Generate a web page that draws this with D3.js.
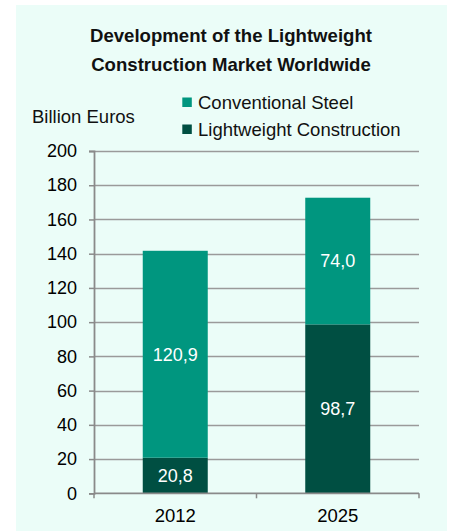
<!DOCTYPE html>
<html><head><meta charset="utf-8">
<script src="https://cdn.jsdelivr.net/npm/d3@7"></script>
<style>html,body{margin:0;padding:0;background:#fff;}svg{display:block;}</style>
</head><body>
<svg id="c" width="450" height="531"></svg>
<script>
const categories = ["2012", "2025"];
const seriesNames = ["Lightweight Construction", "Conventional Steel"];
const lightweight = [20.8, 98.7];
const conventional = [120.9, 74.0];
const valueLabels = [["20,8", "98,7"], ["120,9", "74,0"]];
const yTicks = [0, 20, 40, 60, 80, 100, 120, 140, 160, 180, 200];

const colors = ["#004f42", "#00967f"];
const svg = d3.select("#c");
const font = "'Liberation Sans', Arial, sans-serif";

svg.append("rect").attr("x", 16).attr("y", 5).attr("width", 431).attr("height", 526).attr("fill", "#ebfdf8");

const m = {left: 94, right: 419, top: 151, bottom: 493.3};
const x = d3.scaleBand().domain(categories).range([m.left, m.right]).padding(0);
const y = d3.scaleLinear().domain([0, 200]).range([m.bottom, m.top]);

// gridlines
svg.append("g").selectAll("line").data(yTicks.filter(d => d > 0)).join("line")
  .attr("x1", m.left).attr("x2", m.right)
  .attr("y1", d => Math.round(y(d)) + 0.5).attr("y2", d => Math.round(y(d)) + 0.5)
  .attr("stroke", "#9a9a9a").attr("stroke-width", 1.5);

// y axis
const yAxis = d3.axisLeft(y).tickValues(yTicks).tickSize(5).tickPadding(12).tickFormat(d3.format("d"));
const gy = svg.append("g").attr("transform", `translate(${m.left},0)`).call(yAxis);
gy.select(".domain").attr("stroke", "#8a8a8a").attr("stroke-width", 1.8);
gy.selectAll(".tick line").attr("stroke", "#8a8a8a").attr("stroke-width", 1.5);
gy.selectAll(".tick text").attr("font-family", font).attr("font-size", 18).attr("fill", "#000");

// bars
const stackData = categories.map((c, i) => ({cat: c, vals: [lightweight[i], conventional[i]]}));
const barW = x.bandwidth() * 0.4;
stackData.forEach((d, i) => {
  let base = 0;
  d.vals.forEach((v, s) => {
    const cx = x(d.cat) + x.bandwidth() / 2;
    svg.append("rect")
      .attr("x", cx - barW / 2).attr("width", barW)
      .attr("y", y(base + v)).attr("height", y(base) - y(base + v))
      .attr("fill", colors[s]);
    svg.append("text").attr("x", cx).attr("y", y(base + v / 2)).attr("dy", "0.35em")
      .attr("text-anchor", "middle").attr("font-family", font).attr("font-size", 18)
      .attr("fill", "#fff").text(valueLabels[s][i]);
    base += v;
  });
});

// x axis
const gx = svg.append("g").attr("transform", `translate(0,${m.bottom})`);
gx.append("line").attr("x1", m.left).attr("x2", m.right).attr("y1", 0).attr("y2", 0)
  .attr("stroke", "#8a8a8a").attr("stroke-width", 1.8);
const bounds = [m.left, ...categories.map(c => x(c) + x.bandwidth())];
gx.selectAll(".xt").data(bounds).join("line").attr("x1", d => d).attr("x2", d => d)
  .attr("y1", 0).attr("y2", 5).attr("stroke", "#8a8a8a").attr("stroke-width", 1.5);
gx.selectAll(".xl").data(categories).join("text")
  .attr("x", d => x(d) + x.bandwidth() / 2).attr("y", 28.5)
  .attr("text-anchor", "middle").attr("font-family", font).attr("font-size", 18.5).attr("fill", "#000")
  .text(d => d);

// title
svg.append("text").attr("x", 231).attr("y", 42).attr("text-anchor", "middle")
  .attr("font-family", font).attr("font-weight", "bold").attr("font-size", 18.6).attr("fill", "#111")
  .text("Development of the Lightweight");
svg.append("text").attr("x", 231).attr("y", 71).attr("text-anchor", "middle")
  .attr("font-family", font).attr("font-weight", "bold").attr("font-size", 18.6).attr("fill", "#111")
  .text("Construction Market Worldwide");

// unit label
svg.append("text").attr("x", 32).attr("y", 123).attr("font-family", font).attr("font-size", 18.5)
  .attr("fill", "#111").text("Billion Euros");

// legend
const legendOrder = [1, 0];
legendOrder.forEach((s, k) => {
  const ly = 109 + k * 27;
  svg.append("rect").attr("x", 182.3).attr("y", ly - 11.5).attr("width", 9.5).attr("height", 9.5).attr("fill", colors[s]);
  svg.append("text").attr("x", 198).attr("y", ly).attr("font-family", font).attr("font-size", 18.5)
    .attr("fill", "#111").text(seriesNames[s]);
});
</script>
</body></html>
